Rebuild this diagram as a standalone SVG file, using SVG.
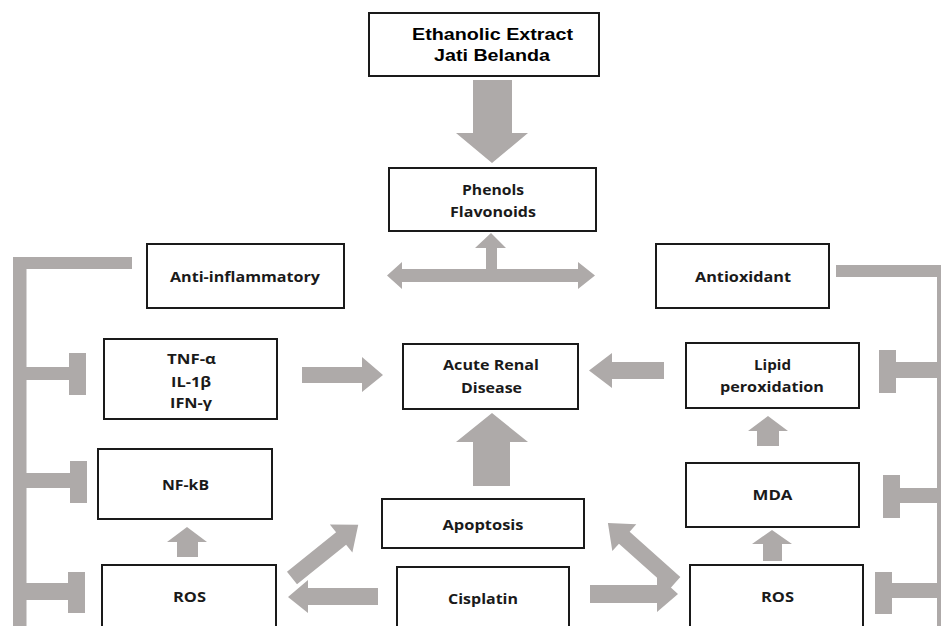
<svg xmlns="http://www.w3.org/2000/svg" width="941" height="626" viewBox="0 0 941 626">
<style>
.box{fill:#fff;stroke:#1a1a1a;stroke-width:2}
.ar{fill:#aeaaa9;stroke:none}
.t{font-family:"Open Sans","Noto Sans","DejaVu Sans",sans-serif;font-weight:bold;font-size:14px;fill:#1a1a1a;text-anchor:middle}
.h{font-family:"Liberation Sans",Arial,sans-serif;font-weight:bold;font-size:16.5px;fill:#000;text-anchor:middle}
</style>
<rect width="941" height="626" fill="#fff"/>
<g id="connectors">
<polygon class="ar" points="473,80 512,80 512,133 528,133 492,163 456,133 473,133"/>
<polygon class="ar" points="387,275.5 402,262 402,269 486,269 486,248 475,248 491,233 506,248 497,248 497,269 578,269 578,262 595,275.5 578,289 578,282 402,282 402,289"/>
<polygon class="ar" points="302,367 362,367 362,357 383,375 362,392 362,383 302,383"/>
<polygon class="ar" points="664,362 612,362 612,353 589,370.5 612,388 612,379 664,379"/>
<polygon class="ar" points="473,486 473,442 456,442 492,413 528,442 510,442 510,486"/>
<polygon class="ar" points="757,446 757,431 748,431 768,416 788,431 779,431 779,446"/>
<polygon class="ar" points="763,561 763,544 752,544 772,530 792,544 782,544 782,561"/>
<polygon class="ar" points="177,557 177,542 167,542 187,527 207,542 198,542 198,557"/>
<polygon class="ar" points="378,588 308,588 308,580 288,597 308,613 308,605 378,605"/>
<polygon class="ar" points="590,585 657,585 657,575 678,594 657,612 657,603 590,603"/>
<polygon class="ar" transform="translate(292,578) rotate(-38.8)" points="0,-8 63,-8 63,-18 85,0 63,18 63,8 0,8"/>
<polygon class="ar" transform="translate(675,583) rotate(-138.2)" points="0,-8 68,-8 68,-18 90,0 68,18 68,8 0,8"/>
<g id="inhibit-left">
<rect class="ar" x="13" y="257" width="13.5" height="369"/>
<rect class="ar" x="13" y="257" width="119" height="12"/>
<rect class="ar" x="26" y="367" width="44" height="13"/>
<rect class="ar" x="69" y="353" width="17" height="42"/>
<rect class="ar" x="26" y="473" width="45" height="15"/>
<rect class="ar" x="70" y="461" width="17" height="42"/>
<rect class="ar" x="26" y="583" width="43" height="17"/>
<rect class="ar" x="68" y="572" width="17" height="41"/>
</g>
<g id="inhibit-right">
<rect class="ar" x="937" y="265" width="4" height="361"/>
<rect class="ar" x="836" y="265" width="105" height="12"/>
<rect class="ar" x="896" y="362" width="45" height="16"/>
<rect class="ar" x="879" y="350" width="17" height="43"/>
<rect class="ar" x="900" y="488" width="41" height="15"/>
<rect class="ar" x="883" y="475" width="17" height="43"/>
<rect class="ar" x="892" y="583" width="49" height="15"/>
<rect class="ar" x="875" y="572" width="17" height="42"/>
</g>
</g>
<g id="extract"><rect class="box" x="369" y="13" width="230" height="63"/>
<text class="h" x="492.5" y="40" textLength="161" lengthAdjust="spacingAndGlyphs">Ethanolic Extract</text>
<text class="h" x="492" y="61" textLength="116" lengthAdjust="spacingAndGlyphs">Jati Belanda</text></g>
<g id="phenols"><rect class="box" x="389" y="168" width="207" height="63"/>
<text class="t" x="493" y="195" textLength="62" lengthAdjust="spacingAndGlyphs">Phenols</text>
<text class="t" x="493" y="217" textLength="86" lengthAdjust="spacingAndGlyphs">Flavonoids</text></g>
<g id="antiinflammatory"><rect class="box" x="147" y="244" width="197" height="64"/>
<text class="t" x="245" y="282" textLength="150" lengthAdjust="spacingAndGlyphs">Anti-inflammatory</text></g>
<g id="antioxidant"><rect class="box" x="656" y="244" width="173" height="64"/>
<text class="t" x="743" y="282" textLength="96" lengthAdjust="spacingAndGlyphs">Antioxidant</text></g>
<g id="cytokines"><rect class="box" x="104" y="339" width="173" height="80"/>
<text class="t" x="191.5" y="364" textLength="49" lengthAdjust="spacingAndGlyphs">TNF-α</text>
<text class="t" x="191" y="387" textLength="40" lengthAdjust="spacingAndGlyphs">IL-1β</text>
<text class="t" x="191" y="408" textLength="42" lengthAdjust="spacingAndGlyphs">IFN-γ</text></g>
<g id="acute"><rect class="box" x="403" y="344" width="175" height="65"/>
<text class="t" x="491" y="370" textLength="96" lengthAdjust="spacingAndGlyphs">Acute Renal</text>
<text class="t" x="491.5" y="393" textLength="61" lengthAdjust="spacingAndGlyphs">Disease</text></g>
<g id="lipid"><rect class="box" x="686" y="343" width="173" height="65"/>
<text class="t" x="772.5" y="370" textLength="37" lengthAdjust="spacingAndGlyphs">Lipid</text>
<text class="t" x="772" y="392" textLength="104" lengthAdjust="spacingAndGlyphs">peroxidation</text></g>
<g id="nfkb"><rect class="box" x="98" y="449" width="174" height="70"/>
<text class="t" x="185.5" y="490" textLength="47" lengthAdjust="spacingAndGlyphs">NF-kB</text></g>
<g id="mda"><rect class="box" x="686" y="463" width="173" height="64"/>
<text class="t" x="772.5" y="500" textLength="40" lengthAdjust="spacingAndGlyphs">MDA</text></g>
<g id="apoptosis"><rect class="box" x="382" y="499" width="202" height="49"/>
<text class="t" x="483" y="530" textLength="81" lengthAdjust="spacingAndGlyphs">Apoptosis</text></g>
<g id="ros-left"><rect class="box" x="102" y="565" width="174" height="70"/>
<text class="t" x="189.5" y="602" textLength="33" lengthAdjust="spacingAndGlyphs">ROS</text></g>
<g id="cisplatin"><rect class="box" x="397" y="567" width="172" height="70"/>
<text class="t" x="483" y="604" textLength="70" lengthAdjust="spacingAndGlyphs">Cisplatin</text></g>
<g id="ros-right"><rect class="box" x="690" y="565" width="173" height="70"/>
<text class="t" x="777.5" y="602" textLength="33" lengthAdjust="spacingAndGlyphs">ROS</text></g>
</svg>
